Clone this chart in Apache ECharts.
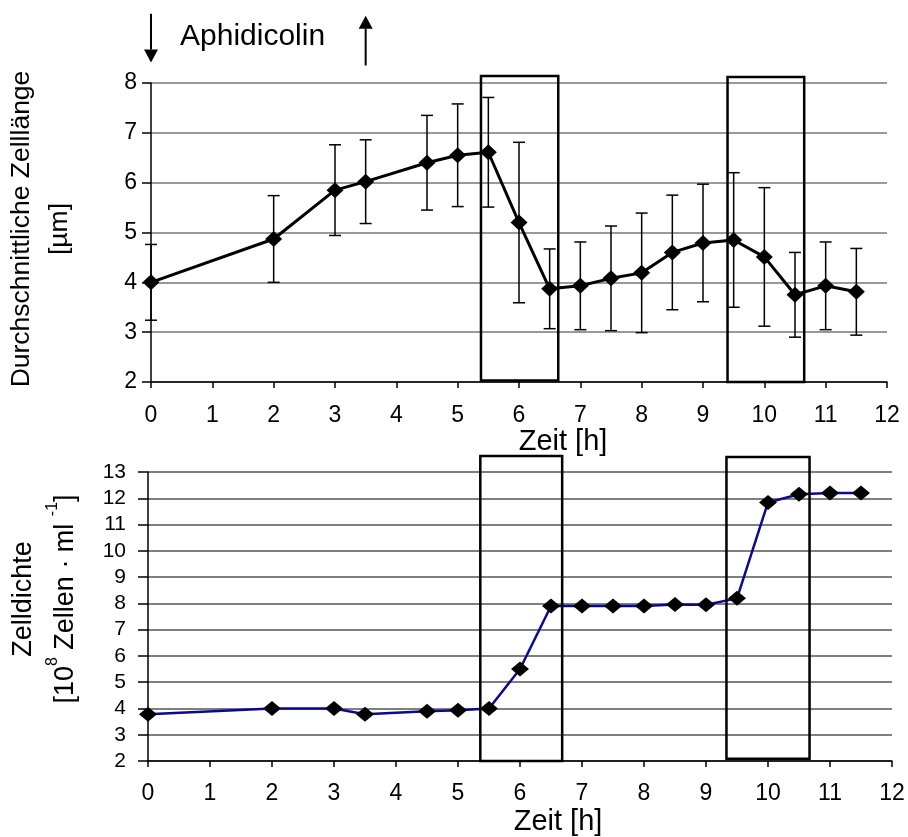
<!DOCTYPE html>
<html>
<head>
<meta charset="utf-8">
<script src="https://cdn.jsdelivr.net/npm/echarts@6/dist/echarts.min.js"></script>
<style>
  html, body { margin: 0; padding: 0; background: #fff; }
  #chart { width: 908px; height: 837px; }
</style>
</head>
<body>
<div id="chart"></div>
<script>
// Zeitpunkte [h]
const timeH = [0, 2, 3, 3.5, 4.5, 5, 5.5, 6, 6.5, 7, 7.5, 8, 8.5, 9, 9.5, 10, 10.5, 11, 11.5];
// Durchschnittliche Zelllänge [µm] und Fehler
const meanLength = [4.0, 4.87, 5.85, 6.02, 6.40, 6.55, 6.61, 5.20, 3.87, 3.93, 4.08, 4.19, 4.60, 4.79, 4.85, 4.51, 3.75, 3.93, 3.81];
const errLength = [0.76, 0.87, 0.91, 0.84, 0.95, 1.03, 1.10, 1.61, 0.80, 0.88, 1.05, 1.20, 1.15, 1.18, 1.35, 1.39, 0.85, 0.88, 0.87];
// Zelldichte [10^8 Zellen/ml]
const density = [3.78, 4.0, 4.0, 3.78, 3.89, 3.93, 4.0, 5.5, 7.9, 7.9, 7.9, 7.9, 7.96, 7.95, 8.19, 11.84, 12.15, 12.2, 12.2];
// Kästen [x0, x1, y0, y1]
const boxesTop = [[5.38, 6.64, 2.03, 8.14], [9.40, 10.65, 2.0, 8.12]];
const boxesBottom = [[5.36, 6.68, 2.0, 13.61], [9.33, 10.67, 2.09, 13.57]];
// Aphidicolin Pfeile [x, Ende, Spitze]
const arrows = [[0, 9.39, 8.41], [3.5, 8.35, 9.35]];

const font = "'Liberation Sans', Arial, sans-serif";
const chart = echarts.init(document.getElementById('chart'));

function boxItem(params, api) {
  const a = api.coord([api.value(0), api.value(3)]);
  const b = api.coord([api.value(1), api.value(2)]);
  return {
    type: 'rect',
    shape: { x: a[0], y: a[1], width: b[0] - a[0], height: b[1] - a[1] },
    style: { fill: 'none', stroke: '#000', lineWidth: 2.5 }
  };
}

function errItem(params, api) {
  const x = api.value(0), m = api.value(1), e = api.value(2);
  const hi = api.coord([x, m + e]);
  const lo = api.coord([x, m - e]);
  const st = { stroke: '#000', lineWidth: 1.5 };
  return {
    type: 'group',
    children: [
      { type: 'line', shape: { x1: hi[0], y1: hi[1], x2: lo[0], y2: lo[1] }, style: st },
      { type: 'line', shape: { x1: hi[0] - 6, y1: hi[1], x2: hi[0] + 6, y2: hi[1] }, style: st },
      { type: 'line', shape: { x1: lo[0] - 6, y1: lo[1], x2: lo[0] + 6, y2: lo[1] }, style: st }
    ]
  };
}

function arrowItem(params, api) {
  const p0 = api.coord([api.value(0), api.value(1)]);
  const p1 = api.coord([api.value(0), api.value(2)]);
  const dir = p1[1] > p0[1] ? 1 : -1;
  const hl = 13, hw = 7;
  return {
    type: 'group',
    children: [
      { type: 'line', shape: { x1: p0[0], y1: p0[1], x2: p1[0], y2: p1[1] - dir * hl }, style: { stroke: '#000', lineWidth: 2 } },
      { type: 'polygon', shape: { points: [[p1[0], p1[1]], [p1[0] - hw, p1[1] - dir * hl], [p1[0] + hw, p1[1] - dir * hl]] }, style: { fill: '#000' } }
    ]
  };
}

const axisX = (grid, fs, margin) => ({
  type: 'value', gridIndex: grid, min: 0, max: 12, interval: 1,
  axisLine: { lineStyle: { color: '#000', width: 1.5 } },
  axisTick: { show: true, length: 6, lineStyle: { color: '#000', width: 1.5 } },
  axisLabel: { fontSize: fs, color: '#000', margin: margin, fontFamily: font },
  splitLine: { show: false }
});

const option = {
  animation: false,
  backgroundColor: '#fff',
  grid: [
    { left: 151, top: 83, width: 736, height: 299 },
    { left: 148, top: 472, width: 744, height: 289 }
  ],
  xAxis: [axisX(0, 23, 22), axisX(1, 23, 21)],
  yAxis: [
    {
      type: 'value', gridIndex: 0, min: 2, max: 8, interval: 1,
      axisLine: { show: true, lineStyle: { color: '#000', width: 1.5 } },
      axisTick: { show: true, length: 9, lineStyle: { color: '#000', width: 1.5 } },
      axisLabel: { fontSize: 23, color: '#000', margin: 14, fontFamily: font },
      splitLine: { lineStyle: { color: '#777', width: 1.5 } }
    },
    {
      type: 'value', gridIndex: 1, min: 2, max: 13, interval: 1,
      axisLine: { show: true, lineStyle: { color: '#000', width: 1.5 } },
      axisTick: { show: true, length: 10, lineStyle: { color: '#000', width: 1.5 } },
      axisLabel: { fontSize: 21, color: '#000', margin: 22, fontFamily: font },
      splitLine: { lineStyle: { color: '#555', width: 1.5 } }
    }
  ],
  series: [
    {
      type: 'custom', xAxisIndex: 0, yAxisIndex: 0, z: 3,
      renderItem: errItem,
      data: timeH.map((t, i) => [t, meanLength[i], errLength[i]])
    },
    {
      type: 'line', xAxisIndex: 0, yAxisIndex: 0, z: 4,
      data: timeH.map((t, i) => [t, meanLength[i]]),
      symbol: 'diamond', symbolSize: [17, 16],
      lineStyle: { color: '#000', width: 3 },
      itemStyle: { color: '#000' }
    },
    {
      type: 'line', xAxisIndex: 1, yAxisIndex: 1, z: 4,
      data: timeH.map((t, i) => [t, density[i]]),
      symbol: 'diamond', symbolSize: [18, 15],
      lineStyle: { color: '#0a0a8c', width: 2.5 },
      itemStyle: { color: '#000' }
    },
    { type: 'custom', xAxisIndex: 0, yAxisIndex: 0, z: 5, renderItem: boxItem, data: boxesTop },
    { type: 'custom', xAxisIndex: 1, yAxisIndex: 1, z: 5, renderItem: boxItem, data: boxesBottom },
    { type: 'custom', xAxisIndex: 0, yAxisIndex: 0, z: 5, renderItem: arrowItem, data: arrows }
  ],
  graphic: [
    {
      type: 'text', x: 180, y: 37,
      style: { text: 'Aphidicolin', fontSize: 30, fontFamily: font, fill: '#000', align: 'left', verticalAlign: 'middle' }
    },
    {
      type: 'text', x: 41, y: 229, rotation: Math.PI / 2,
      style: {
        text: 'Durchschnittliche Zelllänge\n[µm]', fontSize: 26.5, lineHeight: 38, fontFamily: font,
        fill: '#000', align: 'center', verticalAlign: 'middle'
      }
    },
    {
      type: 'text', x: 45, y: 599, rotation: Math.PI / 2,
      style: {
        text: '{n|Zelldichte}\n{n|[10}{s|8}{n| Zellen · ml }{s|-1}{n|]}',
        fontFamily: font, fill: '#000', align: 'center', verticalAlign: 'middle',
        rich: {
          n: { fontSize: 27, lineHeight: 42, fontFamily: font, fill: '#000' },
          s: { fontSize: 16, lineHeight: 42, verticalAlign: 'top', fontFamily: font, fill: '#000' }
        }
      }
    },
    {
      type: 'text', x: 563, y: 442,
      style: { text: 'Zeit [h]', fontSize: 29, fontFamily: font, fill: '#000', align: 'center', verticalAlign: 'middle' }
    },
    {
      type: 'text', x: 558, y: 822,
      style: { text: 'Zeit [h]', fontSize: 29, fontFamily: font, fill: '#000', align: 'center', verticalAlign: 'middle' }
    }
  ]
};

chart.setOption(option);
</script>
</body>
</html>
